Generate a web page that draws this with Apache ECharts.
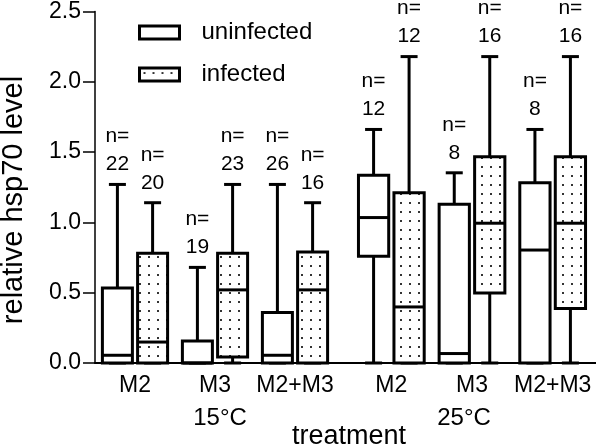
<!DOCTYPE html>
<html><head><meta charset="utf-8">
<script src="https://cdn.jsdelivr.net/npm/echarts@6/dist/echarts.min.js"></script>
<style>html,body{margin:0;padding:0;background:#fff}#c{width:600px;height:448px}</style>
</head><body><div id="c"></div>
<script>
// ---- data ----
const categories = ['M2', 'M3', 'M2+M3'];
const temperatures = ['15°C', '25°C'];
const groupNames = ['uninfected', 'infected'];
const yTicks = [0, 0.5, 1.0, 1.5, 2.0, 2.5];
// each box: [min, Q1, median, Q3, max]
const uninfected15 = [[0, 0, 0.055, 0.534, 1.27], [0, 0, 0, 0.156, 0.68], [0, 0, 0.055, 0.36, 1.27]];
const infected15   = [[0, 0, 0.149, 0.78, 1.14], [0, 0.043, 0.52, 0.78, 1.27], [0, 0, 0.52, 0.79, 1.14]];
const uninfected25 = [[0, 0.756, 1.03, 1.33, 1.654], [0, 0, 0.067, 1.125, 1.347], [0, 0, 0.80, 1.276, 1.654]];
const infected25   = [[0, 0, 0.397, 1.205, 2.17], [0, 0.496, 0.99, 1.46, 2.17], [0, 0.386, 0.99, 1.46, 2.17]];
const nUninfected15 = [22, 19, 26];
const nInfected15 = [20, 23, 16];
const nUninfected25 = [12, 8, 8];
const nInfected25 = [12, 16, 16];
const xTitle = 'treatment';
const yTitle = 'relative hsp70 level';

// ---- styling ----
const FONT = '"Liberation Sans", Arial, Helvetica, sans-serif';
const pc = document.createElement('canvas');
pc.width = 9; pc.height = 9;
const pctx = pc.getContext('2d');
pctx.fillStyle = '#fff'; pctx.fillRect(0, 0, 9, 9);
pctx.fillStyle = '#333'; pctx.fillRect(4, 4, 2, 2);
const dotFill = { image: pc, repeat: 'repeat' };
const fills = { uninfected: '#fff', infected: dotFill };

function rows(boxes, ns) {
  return boxes.map((b, i) => [i].concat(b).concat([ns[i]]));
}

function makeRender(sign, fill) {
  return function (params, api) {
    const ci = api.value(0);
    const band = api.size([1, 0])[0];
    const cx = api.coord([ci, 0])[0] + sign * band * 0.22;
    const w = band * 0.375;
    const cap = 17;
    const y = v => api.coord([ci, v])[1];
    const yMin = y(api.value(1)), yQ1 = y(api.value(2)), yMed = y(api.value(3)),
          yQ3 = y(api.value(4)), yMax = y(api.value(5));
    const n = api.value(6);
    const ls = { stroke: '#000', lineWidth: 3 };
    return {
      type: 'group',
      children: [
        { type: 'line', shape: { x1: cx, y1: yMax, x2: cx, y2: yQ3 }, style: ls },
        { type: 'line', shape: { x1: cx, y1: yQ1, x2: cx, y2: yMin }, style: ls },
        { type: 'line', shape: { x1: cx - cap / 2, y1: yMax, x2: cx + cap / 2, y2: yMax }, style: ls },
        { type: 'line', shape: { x1: cx - cap / 2, y1: yMin, x2: cx + cap / 2, y2: yMin }, style: ls },
        { type: 'rect', shape: { x: cx - w / 2, y: yQ3, width: w, height: yQ1 - yQ3 },
          style: { fill: fill, stroke: '#000', lineWidth: 3 } },
        { type: 'line', shape: { x1: cx - w / 2, y1: yMed, x2: cx + w / 2, y2: yMed }, style: ls },
        { type: 'text', style: { text: 'n=\n' + n, x: cx, y: yMax - 6, align: 'center',
          verticalAlign: 'bottom', fontSize: 21, fontFamily: FONT, lineHeight: 28, fill: '#000' } }
      ]
    };
  };
}

function series(name, gi, sign, data) {
  return {
    type: 'custom', name: name, xAxisIndex: gi, yAxisIndex: gi,
    renderItem: makeRender(sign, fills[name]),
    encode: { x: 0, y: [1, 2, 3, 4, 5] },
    itemStyle: { color: fills[name], borderColor: '#000', borderWidth: 3 },
    clip: false, silent: true, z: 3,
    data: data
  };
}

const grids = [
  { left: 95, top: 10, width: 240, bottom: 85 },
  { left: 351, top: 10, width: 242, bottom: 85 }
];

const xAxes = grids.map((g, gi) => ({
  type: 'category', gridIndex: gi, data: categories,
  axisLine: { show: true, lineStyle: { color: '#000', width: 2 } },
  axisTick: { show: false },
  axisLabel: { color: '#000', fontSize: 23, fontFamily: FONT, margin: 11, interval: 0, hideOverlap: false }
}));

const yAxes = grids.map((g, gi) => ({
  type: 'value', gridIndex: gi, min: 0, max: 2.5, interval: 0.5,
  show: gi === 0,
  axisLine: { show: true, lineStyle: { color: '#000', width: 1.5 } },
  axisTick: { show: true, length: 12, lineStyle: { color: '#000', width: 1.5 } },
  axisLabel: { color: '#000', fontSize: 23, fontFamily: FONT, margin: 14,
    formatter: v => yTicks.indexOf(v) >= 0 ? v.toFixed(1) : '' },
  splitLine: { show: false }
}));

const chart = echarts.init(document.getElementById('c'), null, { renderer: 'canvas' });
chart.setOption({
  animation: false,
  backgroundColor: '#fff',
  grid: grids,
  xAxis: xAxes,
  yAxis: yAxes,
  legend: {
    orient: 'vertical', left: 138, top: 20.5, padding: 0, itemWidth: 40, itemHeight: 13, itemGap: 18,
    selectedMode: false,
    textStyle: { color: '#000', fontSize: 24, fontFamily: FONT, padding: [0, 0, 0, 17] },
    data: groupNames.map(nm => ({ name: nm, icon: 'rect',
      itemStyle: { color: fills[nm], borderColor: '#000', borderWidth: 3 } }))
  },
  series: [
    series('uninfected', 0, -1, rows(uninfected15, nUninfected15)),
    series('infected', 0, 1, rows(infected15, nInfected15)),
    series('uninfected', 1, -1, rows(uninfected25, nUninfected25)),
    series('infected', 1, 1, rows(infected25, nInfected25))
  ],
  graphic: [
    { type: 'line', shape: { x1: 334, y1: 363, x2: 596, y2: 363 }, style: { stroke: '#000', lineWidth: 2 }, z: 1 },
    { type: 'text', x: 220, y: 418, style: { text: temperatures[0], fontSize: 24, fontFamily: FONT, fill: '#000', align: 'center', verticalAlign: 'middle' } },
    { type: 'text', x: 464, y: 418, style: { text: temperatures[1], fontSize: 24, fontFamily: FONT, fill: '#000', align: 'center', verticalAlign: 'middle' } },
    { type: 'text', x: 349, y: 437, style: { text: xTitle, fontSize: 27, fontFamily: FONT, fill: '#000', align: 'center', verticalAlign: 'middle' } },
    { type: 'text', x: 14, y: 200, rotation: Math.PI / 2, style: { text: yTitle, fontSize: 29, fontFamily: FONT, fill: '#000', align: 'center', verticalAlign: 'middle' } }
  ]
});
</script>
</body></html>
